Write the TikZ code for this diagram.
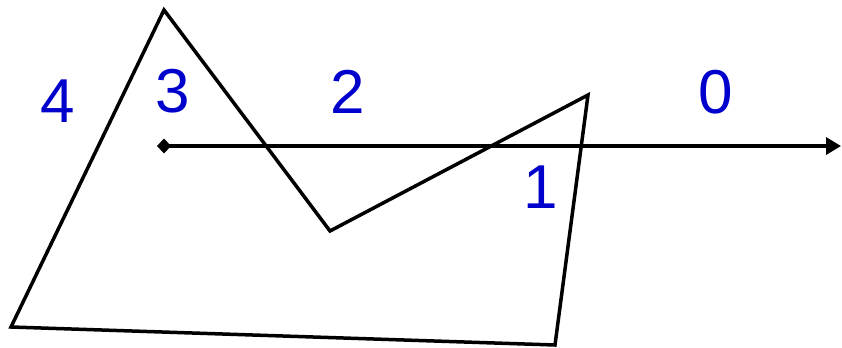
\documentclass[tikz,border=0pt]{standalone}
\usepackage{fontspec}
\setmainfont{Liberation Sans}
\usetikzlibrary{arrows.meta}

\begin{document}
\begin{tikzpicture}[
    x=0.5pt, y=-0.5pt,
    edge/.style={line width=1.75pt, line join=miter},
    ray/.style={line width=1.75pt, {Diamond[length=7pt,width=7.5pt]}-{Triangle[length=7.5pt,width=8.5pt]}},
    lbl/.style={text=blue!80!black, font=\fontsize{31}{36}\selectfont, inner sep=0pt},
]
\useasboundingbox (0,0) rectangle (842,348);
% vertices of the polygon
\coordinate (v0) at (164,10);
\coordinate (v1) at (330,231);
\coordinate (v2) at (588,95);
\coordinate (v3) at (555,345);
\coordinate (v4) at (11,327);
\draw[edge] (v0) -- (v1) -- (v2) -- (v3) -- (v4) -- cycle;

% ray from the query point
\coordinate (p) at (157,146);
\coordinate (q) at (841,146);
\draw[ray] (p) -- (q);

% region numbers
\node[lbl] (n4) at (58,101) {4};
\node[lbl] (n3) at (173,91) {3};
\node[lbl] (n2) at (348,92) {2};
\node[lbl] (n0) at (716,92) {0};
\node[lbl] (n1) at (541,187) {1};
\end{tikzpicture}
\end{document}
